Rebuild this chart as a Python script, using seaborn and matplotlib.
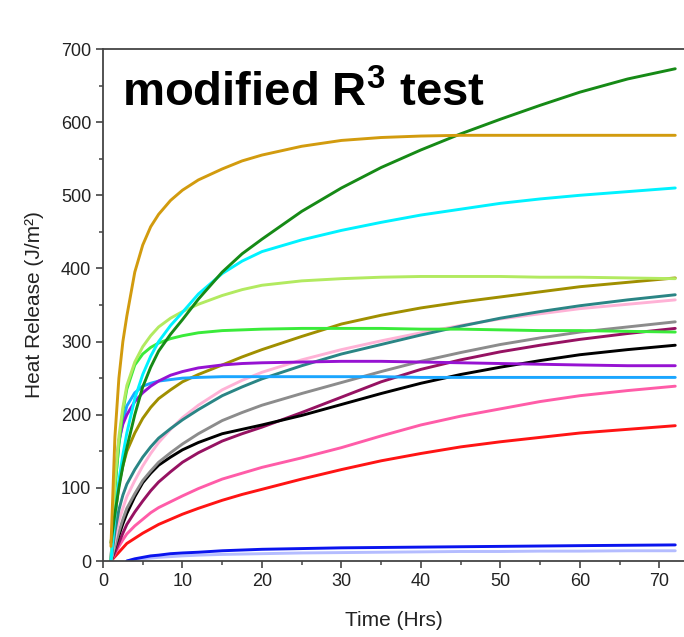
import numpy as np
import pandas as pd
import matplotlib
matplotlib.use("Agg")
import matplotlib.pyplot as plt
import seaborn as sns
from matplotlib.ticker import MultipleLocator

nan = np.nan
# ---------------- data ----------------
time_hrs = [1, 1.5, 2, 2.5, 3, 4, 5, 6, 7, 8.5, 10, 12, 15, 17.5, 20,
            25, 30, 35, 40, 45, 50, 55, 60, 66, 72]

goldenrod    = [20, 170, 250, 300, 335, 395, 432, 457, 474, 493, 507, 521, 536, 547, 555,
                567, 575, 579, 581, 582, 582, 582, 582, 582, 582]
dark_green   = [25, 65, 100, 130, 155, 200, 238, 265, 287, 310, 330, 358, 395, 420, 440,
                478, 510, 538, 562, 584, 604, 623, 641, 659, 673]
cyan         = [0, 60, 110, 145, 175, 222, 255, 280, 300, 322, 340, 365, 393, 410, 423,
                439, 452, 463, 473, 481, 489, 495, 500, 505, 510]
light_green  = [0, 110, 170, 210, 240, 272, 293, 308, 320, 332, 341, 351, 363, 371, 377,
                383, 386, 388, 389, 389, 389, 388, 388, 387, 386]
bright_green = [0, 100, 160, 205, 235, 268, 283, 292, 298, 304, 308, 312, 315, 316, 317,
                318, 318, 318, 317, 317, 316, 315, 315, 314, 313]
purple       = [0, 110, 165, 187, 200, 218, 230, 239, 246, 254, 259, 264, 268, 270, 271,
                272, 273, 273, 272, 271, 270, 269, 268, 267, 267]
light_blue   = [0, 100, 160, 192, 212, 230, 239, 243, 246, 248, 250, 251, 252, 252, 252,
                252, 252, 252, 251, 251, 251, 251, 251, 251, 251]
olive        = [0, 60, 105, 130, 150, 175, 195, 210, 222, 234, 245, 255, 268, 279, 289,
                307, 324, 336, 346, 354, 361, 368, 375, 381, 387]
teal         = [0, 40, 70, 90, 105, 125, 142, 156, 168, 181, 193, 207, 226, 238, 249,
                267, 283, 296, 309, 321, 332, 341, 349, 357, 364]
pink         = [0, 30, 55, 72, 88, 110, 130, 147, 162, 180, 196, 213, 234, 247, 258,
                275, 289, 301, 312, 322, 331, 338, 345, 351, 357]
gray         = [0, 20, 40, 57, 72, 92, 110, 123, 135, 148, 160, 174, 192, 203, 213,
                229, 244, 259, 273, 285, 296, 305, 313, 320, 327]
black        = [0, 18, 35, 51, 65, 88, 107, 120, 131, 142, 152, 162, 174, 180, 186,
                199, 214, 229, 243, 255, 265, 274, 282, 289, 295]
maroon       = [0, 12, 25, 38, 50, 67, 82, 96, 108, 122, 135, 148, 164, 174, 183,
                203, 224, 245, 262, 275, 286, 295, 303, 311, 318]
hot_pink     = [0, 10, 20, 29, 37, 48, 57, 66, 73, 81, 89, 99, 112, 120, 128,
                141, 155, 171, 186, 198, 208, 218, 226, 233, 239]
red          = [0, 6, 12, 18, 24, 31, 38, 44, 50, 57, 64, 72, 83, 91, 98,
                112, 125, 137, 147, 156, 163, 169, 175, 180, 185]
blue         = [nan, nan, nan, nan, 0, 3, 5, 7, 8, 10, 11, 12, 14, 15, 16,
                17, 18, 18.5, 19, 19.5, 20, 20.5, 21, 21.5, 22]
lavender     = [nan, nan, nan, nan, 0, 2, 3, 4, 5, 6, 7, 8, 9, 9.5, 10,
                11, 11.5, 12, 12.5, 13, 13, 13.5, 13.5, 14, 14]

series = {
    "lavender": lavender, "blue": blue, "red": red, "hot_pink": hot_pink,
    "maroon": maroon, "black": black, "gray": gray, "pink": pink, "teal": teal,
    "olive": olive, "light_blue": light_blue, "purple": purple,
    "bright_green": bright_green, "light_green": light_green, "cyan": cyan,
    "dark_green": dark_green, "goldenrod": goldenrod,
}
colors = {
    "goldenrod": "#D29B0E", "dark_green": "#168A16", "cyan": "#00F2FF",
    "light_green": "#B2EA60", "bright_green": "#3AEB3A", "purple": "#9612D2",
    "light_blue": "#1AA6FF", "olive": "#A08F00", "teal": "#2A8585",
    "pink": "#FFB2D6", "gray": "#8C8C8C", "black": "#000000",
    "maroon": "#961262", "hot_pink": "#FF5CA8", "red": "#FF1414",
    "blue": "#0A14EE", "lavender": "#B4BCFF",
}

rows = []
for name, vals in series.items():
    assert len(vals) == len(time_hrs)
    for t, v in zip(time_hrs, vals):
        rows.append({"Time": t, "Heat": v, "series": name})
df = pd.DataFrame(rows).dropna()

# ---------------- figure ----------------
sns.set_style("ticks")
plt.rcParams["font.family"] = ["Liberation Sans", "DejaVu Sans"]
plt.rcParams["mathtext.fontset"] = "custom"
plt.rcParams["mathtext.bf"] = "Liberation Sans:bold"
plt.rcParams["mathtext.rm"] = "Liberation Sans:bold"

W, H = 684, 637
fig = plt.figure(figsize=(W / 100, H / 100), dpi=100)
ax = fig.add_axes([103 / W, (H - 561) / H, 581 / W, (561 - 49) / H])

sns.lineplot(data=df, x="Time", y="Heat", hue="series",
             hue_order=list(series.keys()), palette=colors,
             linewidth=2.1, legend=False, ax=ax, estimator=None)

ax.set_xlim(0, 73.1)
ax.set_ylim(0, 700)
ax.xaxis.set_major_locator(MultipleLocator(10))
ax.xaxis.set_minor_locator(MultipleLocator(5))
ax.yaxis.set_major_locator(MultipleLocator(100))
ax.yaxis.set_minor_locator(MultipleLocator(50))

for s in ["left", "bottom", "top"]:
    ax.spines[s].set_color("#444444")
    ax.spines[s].set_linewidth(1.3)
ax.spines["right"].set_visible(False)

ax.tick_params(which="major", direction="out", length=5, width=1.2,
               color="#444444", labelsize=13, labelcolor="#222222")
ax.tick_params(which="minor", direction="out", length=3, width=1.1,
               color="#444444")

ax.set_xlabel("Time (Hrs)", fontsize=15, color="#222222", labelpad=15)
ax.set_ylabel("Heat Release (J/m²)", fontsize=15, color="#222222", labelpad=12)

ax.text(2.4, 621, r"modified R$^{\mathbf{3}}$ test", fontsize=34,
        fontweight="bold", color="black", va="baseline", ha="left")

fig.savefig("out.png", dpi=100)
